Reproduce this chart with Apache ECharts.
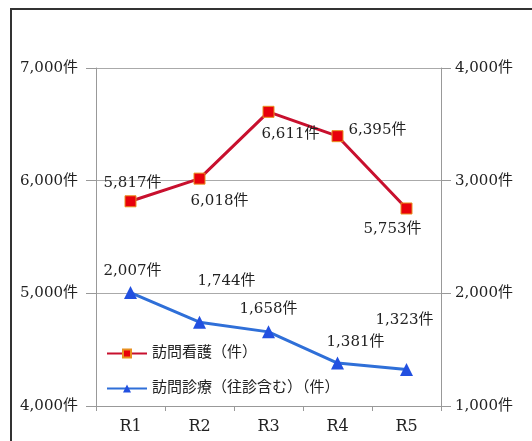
<!DOCTYPE html>
<html>
<head>
<meta charset="utf-8">
<script src="https://cdn.jsdelivr.net/npm/echarts@6/dist/echarts.min.js"></script>
<style>
  html, body { margin: 0; padding: 0; background: #fff; }
  #main { width: 532px; height: 441px; }
</style>
</head>
<body>
<div id="main"></div>
<script>
let categories = ['R1', 'R2', 'R3', 'R4', 'R5'];
let nursingName = '訪問看護（件）';
let nursingValues = [5817, 6018, 6611, 6395, 5753];
let clinicName = '訪問診療（往診含む）（件）';
let clinicValues = [2007, 1744, 1658, 1381, 1323];

let font = '"DejaVu Serif", "Noto Sans CJK JP", serif';

function fmt(v) {
    return String(v).replace(/\B(?=(\d{3})+(?!\d))/g, ',') + '件';
}

let nursingLabels = [
    { position: 'top', offset: [2, 0] },
    { position: 'bottom', offset: [20, 4] },
    { position: 'bottom', offset: [22, 4] },
    { position: 'right', offset: [0, -6] },
    { position: 'bottom', offset: [-14, 2] }
];
let clinicLabels = [
    { position: 'top', offset: [2, -2] },
    { position: 'top', offset: [27, -22] },
    { position: 'top', offset: [0, -4] },
    { position: 'top', offset: [18, -2] },
    { position: 'top', offset: [-2, -30] }
];

window.addEventListener('load', function () {
    let chart = echarts.init(document.getElementById('main'));
    let labelStyle = { fontFamily: font, fontSize: 15, color: '#222' };
    let option = {
        animation: false,
        backgroundColor: '#fff',
        graphic: [{
            type: 'rect',
            shape: { x: 11, y: 9, width: 540, height: 460 },
            style: { fill: 'none', stroke: '#333', lineWidth: 2 }
        }],
        grid: { left: 96, right: 91, top: 68, bottom: 35 },
        legend: {
            orient: 'vertical',
            left: 101,
            top: 341,
            itemGap: 20,
            itemWidth: 40,
            itemHeight: 10,
            textStyle: { fontFamily: font, fontSize: 15, color: '#222' },
            data: [nursingName, clinicName]
        },
        xAxis: {
            type: 'category',
            data: categories,
            axisLine: { lineStyle: { color: '#999' } },
            axisTick: { show: true, length: 5, lineStyle: { color: '#999' } },
            axisLabel: { fontFamily: font, fontSize: 16, color: '#222', margin: 13 }
        },
        yAxis: [{
            type: 'value',
            min: 4000, max: 7000, interval: 1000,
            axisLine: { show: true, lineStyle: { color: '#999' } },
            axisTick: { show: true, length: 10, lineStyle: { color: '#999' } },
            splitLine: { lineStyle: { color: '#aaa' } },
            axisLabel: { formatter: fmt, fontFamily: font, fontSize: 15, color: '#222', margin: 18 }
        }, {
            type: 'value',
            min: 1000, max: 4000, interval: 1000,
            axisLine: { show: true, lineStyle: { color: '#999' } },
            axisTick: { show: true, length: 10, lineStyle: { color: '#999' } },
            splitLine: { show: false },
            axisLabel: { formatter: fmt, fontFamily: font, fontSize: 15, color: '#222', margin: 14 }
        }],
        series: [{
            name: nursingName,
            type: 'line',
            yAxisIndex: 0,
            symbol: 'rect',
            symbolSize: 11,
            lineStyle: { color: '#c8102e', width: 3 },
            itemStyle: { color: '#e8000b', borderColor: '#e89020', borderWidth: 1 },
            label: { show: true, formatter: function (p) { return fmt(p.value); }, ...labelStyle },
            data: nursingValues.map(function (v, i) {
                return { value: v, label: nursingLabels[i] };
            })
        }, {
            name: clinicName,
            type: 'line',
            yAxisIndex: 1,
            symbol: 'triangle',
            symbolSize: 13,
            lineStyle: { color: '#2f6fd8', width: 3 },
            itemStyle: { color: '#2250e0' },
            label: { show: true, formatter: function (p) { return fmt(p.value); }, ...labelStyle },
            data: clinicValues.map(function (v, i) {
                return { value: v, label: clinicLabels[i] };
            })
        }]
    };
    chart.setOption(option);
}, false);
</script>
</body>
</html>
